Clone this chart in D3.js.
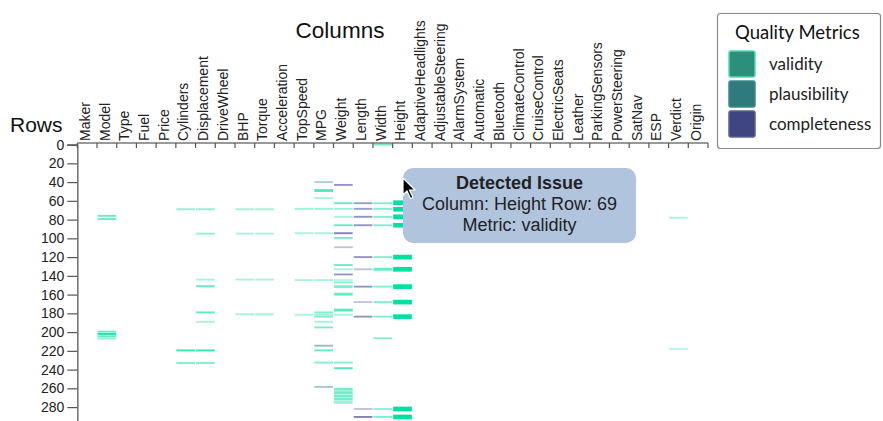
<!DOCTYPE html>
<html>
<head>
<meta charset="utf-8">
<script src="https://cdn.jsdelivr.net/npm/d3@7"></script>
<style>
  body { margin: 0; background: #fff; overflow: hidden; }
  #wrap { position: relative; width: 883px; height: 421px; overflow: hidden; }
  svg { position: absolute; left: 0; top: 0; }
  #tip {
    position: absolute; left: 403px; top: 168px; width: 233px; height: 75px;
    box-sizing: border-box; padding-top: 5px;
    background: lightsteelblue; border-radius: 10px;
    font-family: "Liberation Sans", Arial, sans-serif; font-size: 18px; line-height: 21px;
    color: #222; text-align: center;
  }
  #tip b { font-weight: bold; }
</style>
</head>
<body>
<div id="wrap"></div>
<script>
// ---------- data ----------
const columns = ["Maker","Model","Type","Fuel","Price","Cylinders","Displacement","DriveWheel","BHP","Torque",
  "Acceleration","TopSpeed","MPG","Weight","Length","Width","Height","AdaptiveHeadlights","AdjustableSteering",
  "AlarmSystem","Automatic","Bluetooth","ClimateControl","CruiseControl","ElectricSeats","Leather",
  "ParkingSensors","PowerSteering","SatNav","ESP","Verdict","Origin"];
const rowTicks = [0,20,40,60,80,100,120,140,160,180,200,220,240,260,280];
const rowCount = 300;
const metrics = ["validity","plausibility","completeness"];

// issue: [column, row, rows covered, strength]
const validityIssues = [
  ["Width",0,2,0.55],
  ["Height",62,5,1],["Height",69,5,1],["Height",77,5,1],["Height",86,5,1],["Height",120,5,1],["Height",133,5,1],
  ["Height",151.5,5,1],["Height",168,5,1],["Height",183.5,5,1],["Height",282,5,1],["Height",290.5,5,1],
  ["Width",62.5,2,0.5],["Width",68.5,2,0.5],["Width",77,2,0.5],["Width",86,2,0.5],["Width",120,2,0.5],["Width",133,3,0.6],
  ["Width",151.5,2,0.5],["Width",168,2,0.5],["Width",183.5,2,0.5],["Width",206.5,2,0.45],["Width",282,2,0.45],["Width",290.5,2,0.5],
  ["Weight",62.5,2,0.6],["Weight",68.5,2,0.4],["Weight",77,2,0.35],["Weight",86,2,0.6],["Weight",99.5,2,0.55],
  ["Weight",128.5,2,0.6],["Weight",133,2,0.35],["Weight",144.5,2,0.3],["Weight",147,2,0.5],["Weight",151.5,3,0.5],
  ["Weight",159.5,3,0.6],["Weight",176.5,3,0.65],["Weight",181.5,2,0.35],["Weight",232.5,2,0.5],["Weight",238.5,2,0.7],
  ["Weight",261,3,0.55],["Weight",264.5,3,0.55],["Weight",268,3,0.55],["Weight",271.5,3,0.55],["Weight",275,3,0.4],
  ["MPG",49,3,0.7],["MPG",57,2,0.35],["MPG",68.5,2,0.4],["MPG",94.5,2,0.35],["MPG",144.5,2,0.35],["MPG",179,2,0.5],
  ["MPG",181.5,2,0.35],["MPG",183.5,2,0.5],["MPG",189,2,0.35],["MPG",195,2,0.55],["MPG",219.5,2,0.6],["MPG",232.5,2,0.5],
  ["TopSpeed",68.5,2,0.4],["TopSpeed",94.5,2,0.35],["TopSpeed",144.5,2,0.35],["TopSpeed",181.5,2,0.35],
  ["BHP",69,2,0.4],["BHP",95,2,0.35],["BHP",144,2,0.35],["BHP",181,2,0.35],
  ["Torque",69,2,0.4],["Torque",95,2,0.35],["Torque",144,2,0.35],["Torque",181,2,0.35],
  ["Displacement",69,2,0.45],["Displacement",95,2,0.45],["Displacement",144,2,0.35],["Displacement",151,2,0.6],
  ["Displacement",179,2,0.65],["Displacement",189,2,0.35],["Displacement",219.5,2,0.8],["Displacement",233,2,0.5],
  ["Cylinders",69,2,0.45],["Cylinders",219.5,2,0.8],["Cylinders",233,2,0.5],
  ["Model",76,2,0.6],["Model",79.5,2,0.6],["Model",199.5,2,0.6],["Model",202,2,0.9],["Model",204.5,2,0.6],["Model",207,2,0.4],
  ["Verdict",78,2,0.35],["Verdict",218,2,0.3]
];
const plausibilityIssues = [
  ["MPG",40,2,0.45],["MPG",214.5,2,0.6],["MPG",258.5,2,0.5]
];
const completenessIssues = [
  ["Weight",43,2,0.6],["Weight",94.5,2,0.7],["Weight",109.5,2,0.35],["Weight",138.5,2,0.6],
  ["Length",62.5,2,0.55],["Length",68.5,2,0.55],["Length",77,2,0.6],["Length",86,2,0.6],["Length",120,2,0.6],
  ["Length",133,2,0.35],["Length",151.5,2,0.6],["Length",168,2,0.35],["Length",183.5,2,0.6],["Length",282,2,0.35],["Length",290.5,2,0.7]
];
const tooltipLines = ["Detected Issue","Column: Height Row: 69","Metric: validity"];

// ---------- styles ----------
const markColor = d3.scaleOrdinal().domain(metrics).range(["#00e0a0","#3f9a9c","#4b4c9c"]);
const swatchFill = d3.scaleOrdinal().domain(metrics).range(["#2b8f7b","#2e7a7d","#3e4581"]);
const swatchStroke = d3.scaleOrdinal().domain(metrics).range(["#4fdcae","#3d8a8c","#5a5f98"]);

const W = 883, H = 421;
const x = d3.scaleBand().domain(columns).range([77.3, 708]).paddingInner(0).paddingOuter(0);
const y = d3.scaleLinear().domain([0, rowCount]).range([144.6, 144.6 + rowCount * 0.9375]);

const wrap = d3.select("#wrap");
const svg = wrap.append("svg").attr("width", W).attr("height", H);

// titles
svg.append("text").attr("x", 340).attr("y", 38).attr("text-anchor", "middle")
  .style("font-family", "Liberation Sans, Arial, sans-serif").style("font-size", "22.5px").attr("fill", "#111")
  .text("Columns");
svg.append("text").attr("x", 10).attr("y", 132)
  .style("font-family", "Liberation Sans, Arial, sans-serif").style("font-size", "21px").attr("fill", "#111")
  .text("Rows");

// issues
const all = [];
validityIssues.forEach(d => all.push({c: d[0], r: d[1], n: d[2], s: d[3], m: "validity"}));
plausibilityIssues.forEach(d => all.push({c: d[0], r: d[1], n: d[2], s: d[3], m: "plausibility"}));
completenessIssues.forEach(d => all.push({c: d[0], r: d[1], n: d[2], s: d[3], m: "completeness"}));

const rowPx = y(1) - y(0);
svg.append("g").selectAll("rect").data(all).join("rect")
  .attr("x", d => x(d.c) + 0.5)
  .attr("width", x.bandwidth() - 1)
  .attr("y", d => y(d.r) - d.n * rowPx / 2)
  .attr("height", d => d.n * rowPx)
  .attr("fill", d => markColor(d.m))
  .attr("fill-opacity", d => d.s);

// y axis
const yAxis = svg.append("g").attr("transform", `translate(${x.range()[0]},0)`)
  .call(d3.axisLeft(y).tickValues(rowTicks).tickSize(10).tickPadding(3));
yAxis.select(".domain").attr("stroke", "#777").attr("stroke-width", 1.6);
yAxis.selectAll(".tick line").attr("stroke", "#555").attr("stroke-width", 1.2);
yAxis.selectAll(".tick text").style("font-family", "Liberation Sans, Arial, sans-serif")
  .style("font-size", "14px").attr("fill", "#222");

// x axis (ticks at band starts)
const axY = 143;
const xg = svg.append("g");
xg.append("line").attr("x1", x.range()[0]).attr("x2", x.range()[1]).attr("y1", axY).attr("y2", axY)
  .attr("stroke", "#777").attr("stroke-width", 1.4);
const tickPos = columns.map(c => x(c)).concat([x.range()[1]]);
xg.selectAll("line.t").data(tickPos).join("line").attr("class", "t")
  .attr("x1", d => d).attr("x2", d => d).attr("y1", axY).attr("y2", axY + 5)
  .attr("stroke", "#555").attr("stroke-width", 1.2);
xg.selectAll("text").data(columns).join("text")
  .attr("transform", d => `translate(${x(d) + 12.6},${axY - 2}) rotate(-90)`)
  .attr("text-anchor", "start")
  .style("font-family", "Liberation Sans, Arial, sans-serif").style("font-size", "14px").attr("fill", "#222")
  .text(d => d);

// legend
const lg = svg.append("g");
lg.append("rect").attr("x", 717.5).attr("y", 13.5).attr("width", 163).attr("height", 135)
  .attr("rx", 3).attr("fill", "#fff").attr("stroke", "#888").attr("stroke-width", 1.2);
lg.append("text").attr("x", 735).attr("y", 39)
  .style("font-family", "Lato, sans-serif").style("font-size", "18.5px").attr("fill", "#111").text("Quality Metrics");
const li = lg.selectAll("g.i").data(metrics).join("g").attr("class", "i")
  .attr("transform", (d, i) => `translate(729,${51 + i * 30})`);
li.append("rect").attr("width", 26).attr("height", 26).attr("rx", 2)
  .attr("fill", d => swatchFill(d)).attr("stroke", d => swatchStroke(d)).attr("stroke-width", 1.5);
li.append("text").attr("x", 40).attr("y", 19)
  .style("font-family", "Lato, sans-serif").style("font-size", "17px").attr("fill", "#222").text(d => d);

// tooltip
const tip = wrap.append("div").attr("id", "tip");
tip.append("div").append("b").text(tooltipLines[0]);
tip.append("div").text(tooltipLines[1]);
tip.append("div").text(tooltipLines[2]);

// mouse pointer
const cur = wrap.append("svg").attr("width", 20).attr("height", 26)
  .style("left", "402px").style("top", "177px").style("position", "absolute");
cur.append("path").attr("d", "M1,1 L1,18 L5,14 L8.5,21.5 L11,20.5 L7.5,13 L13,13 Z")
  .attr("fill", "#000").attr("stroke", "#fff").attr("stroke-width", 1.2).attr("stroke-linejoin", "round");
</script>
</body>
</html>
